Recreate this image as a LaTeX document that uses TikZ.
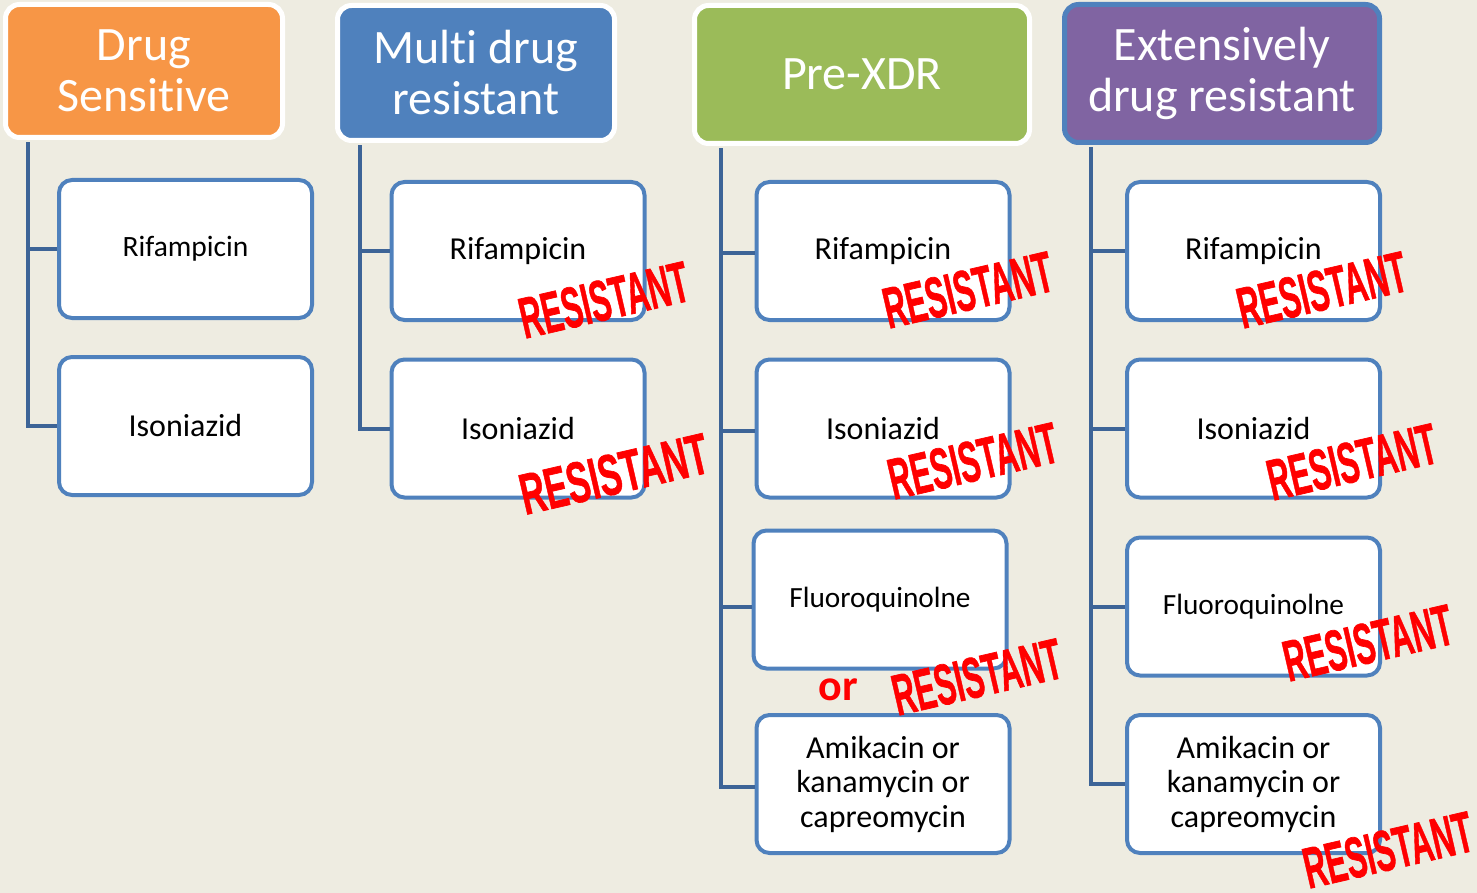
\documentclass[tikz,border=0pt]{standalone}
\usepackage{fontspec}
\setmainfont[Ligatures={NoCommon}]{Carlito}
\newfontfamily\resfont[BoldFeatures={FakeBold=1.2}]{Liberation Sans}
\usetikzlibrary{positioning}
\definecolor{bgc}{HTML}{EEECE1}
\definecolor{orangeh}{HTML}{F79646}
\definecolor{blueh}{HTML}{4F81BD}
\definecolor{greenh}{HTML}{9BBB59}
\definecolor{purpleh}{HTML}{8064A2}
\definecolor{connc}{HTML}{3D6497}
\definecolor{resred}{HTML}{FF0000}
\tikzset{
  hdr/.style={rounded corners=14pt, line width=5pt, draw=white, text=white,
    font=\fontsize{48}{51}\selectfont, align=center, inner sep=0pt},
  child/.style={rounded corners=13pt, line width=4pt, draw=blueh, fill=white,
    minimum width=253pt, minimum height=138pt, align=center, inner sep=0pt,
    font=\fontsize{32}{34.5}\selectfont},
  conn/.style={draw=connc, line width=4pt},
  res/.style={text=resred, rotate=13, inner sep=0pt,
    font=\resfont\bfseries\fontsize{58}{58}\selectfont},
}
\newcommand{\resword}[1][0.53]{\scalebox{#1}[1]{RESISTANT}}
\begin{document}
\begin{tikzpicture}[x=1pt,y=-1pt]
\fill[bgc] (0,0) rectangle (1477,893);
\useasboundingbox (0,0) rectangle (1477,893);

% headers
\node[hdr, fill=orangeh, minimum width=277pt, minimum height=133pt] (h1) at (144,71) {Drug\\Sensitive};
\node[hdr, fill=blueh, minimum width=277pt, minimum height=135pt] (h2) at (476,73) {Multi drug\\resistant};
\node[hdr, fill=greenh, minimum width=335pt, minimum height=138pt] (h3) at (862,74.5) {Pre-XDR};
\node[hdr, fill=purpleh, draw=blueh, minimum width=315pt, minimum height=138pt] (h4) at (1222,73.5) {Extensively\\drug resistant};

% children
\node[child, font=\fontsize{29.5}{32}\selectfont] (c1a) at (185.5,249) {Rifampicin};
\node[child] (c1b) at (185.5,426) {Isoniazid};
\node[child] (c2a) at (518,251) {Rifampicin};
\node[child] (c2b) at (518,428.5) {Isoniazid};
\node[child] (c3a) at (883,251) {Rifampicin};
\node[child] (c3b) at (883,428.5) {Isoniazid};
\node[child, font=\fontsize{29.3}{32}\selectfont] (c3c) at (880,599.5) {Fluoroquinolne};
\node[child] (c3d) at (883,784) {Amikacin or\\kanamycin or\\capreomycin};
\node[child] (c4a) at (1253.5,251) {Rifampicin};
\node[child] (c4b) at (1253.5,428.5) {Isoniazid};
\node[child, font=\fontsize{29.3}{32}\selectfont] (c4c) at (1253.5,606.5) {Fluoroquinolne};
\node[child] (c4d) at (1253.5,784) {Amikacin or\\kanamycin or\\capreomycin};

% connectors
\coordinate (t1) at ([xshift=24.5pt,yshift=-2.5pt]h1.south west);
\coordinate (t2) at ([xshift=24.5pt,yshift=-2.5pt]h2.south west);
\coordinate (t3) at ([xshift=28.5pt,yshift=-2.5pt]h3.south west);
\coordinate (t4) at ([xshift=28.5pt,yshift=-2.5pt]h4.south west);
\draw[conn] (t1) |- (c1b.west);
\draw[conn] (t1) |- (c1a.west);
\draw[conn] (t2) |- (c2b.west);
\draw[conn] (t2) |- (c2a.west);
\draw[conn] (t3) |- ([yshift=-3pt]c3d.west);
\draw[conn] (t3) |- ([yshift=-7pt]c3c.west);
\draw[conn] (t3) |- ([yshift=-2pt]c3b.west);
\draw[conn] (t3) |- ([yshift=-2pt]c3a.west);
\draw[conn] (t4) |- (c4d.west);
\draw[conn] (t4) |- (c4c.west);
\draw[conn] (t4) |- (c4b.west);
\draw[conn] (t4) |- (c4a.west);

% resistant labels
\node[res] (r2a) at (604,300) {\resword};
\node[res] (r2b) at (614,474) {\resword[0.59]};
\node[res] (r3a) at (968,290) {\resword};
\node[res] (r3b) at (973,461) {\resword};
\node[res] (r3c) at (977,677) {\resword};
\node[res] (r4a) at (1322,290) {\resword};
\node[res] (r4b) at (1352,462) {\resword};
\node[res] (r4c) at (1368,643) {\resword};
\node[res] (r4d) at (1388,850) {\resword};
\node[text=resred, font=\bfseries\fontsize{44}{44}\selectfont, inner sep=0pt] (or) at (838,690) {or};
\end{tikzpicture}
\end{document}
